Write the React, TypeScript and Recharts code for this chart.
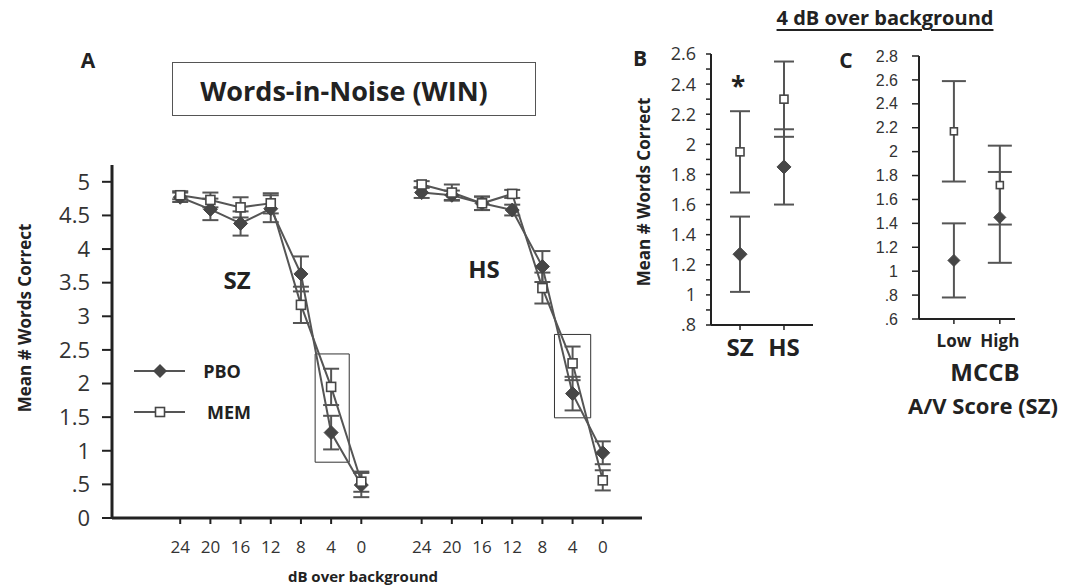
import React from "react";
import { ComposedChart, Line, XAxis, YAxis, ErrorBar, ReferenceArea } from "recharts";

// panel A: words correct by dB over background
const DB_LABELS = ["24", "20", "16", "12", "8", "4", "0"];
const SZ_POS = [0, 1, 2, 3, 4, 5, 6];
const HS_POS = [8, 9, 10, 11, 12, 13, 14];

const SZ_PBO = [4.77, 4.59, 4.38, 4.6, 3.63, 1.27, 0.49];
const SZ_PBO_ERR = [0.07, 0.16, 0.18, 0.2, 0.26, 0.25, 0.18];
const SZ_MEM = [4.8, 4.73, 4.62, 4.68, 3.17, 1.95, 0.54];
const SZ_MEM_ERR = [0.06, 0.11, 0.15, 0.15, 0.27, 0.27, 0.15];

const HS_PBO = [4.84, 4.8, 4.68, 4.58, 3.74, 1.85, 0.97];
const HS_PBO_ERR = [0.08, 0.07, 0.1, 0.08, 0.23, 0.25, 0.17];
const HS_MEM = [4.96, 4.84, 4.68, 4.82, 3.42, 2.3, 0.56];
const HS_MEM_ERR = [0.05, 0.12, 0.1, 0.06, 0.23, 0.25, 0.15];

const A_Y_TICKS = [0, 0.5, 1, 1.5, 2, 2.5, 3, 3.5, 4, 4.5, 5];

// boxes round the 4 dB points
const HIGHLIGHT_BOXES = [
  { x1: 4.47, x2: 5.6, y1: 0.83, y2: 2.44 },
  { x1: 12.4, x2: 13.6, y1: 1.49, y2: 2.73 },
];

// panel B: 4 dB, by group
const B_POS = [1, 2];
const B_GROUPS = ["SZ", "HS"];
const B_PBO = [1.27, 1.85];
const B_PBO_ERR = [0.25, 0.25];
const B_MEM = [1.95, 2.3];
const B_MEM_ERR = [0.27, 0.25];
const B_Y_TICKS = [0.8, 0.9, 1, 1.1, 1.2, 1.3, 1.4, 1.5, 1.6, 1.7, 1.8, 1.9, 2, 2.1, 2.2, 2.3, 2.4, 2.5, 2.6];

// panel C: SZ by MCCB A/V score
const C_POS = [1, 2];
const C_GROUPS = ["Low", "High"];
const C_PBO = [1.09, 1.45];
const C_PBO_ERR = [0.31, 0.38];
const C_MEM = [2.17, 1.72];
const C_MEM_ERR = [0.42, 0.33];
const C_Y_TICKS = [0.6, 0.8, 1, 1.2, 1.4, 1.6, 1.8, 2, 2.2, 2.4, 2.6, 2.8];

const toPoints = (pos: number[], vals: number[], errs: number[]) =>
  pos.map((x, i) => ({ x, y: vals[i], err: errs[i] }));

const fmtNum = (v: number) => String(Math.round(v * 10) / 10).replace(/^0\./, ".");

const FONT = "'Open Sans', sans-serif";
const LINE = "#555";
const MARK = "#464646";

const diamondDot = (r: number) => (p: any) => {
  if (p.cx == null || p.cy == null) return <g key={`dn-${p.index}`} />;
  const { cx, cy } = p;
  return (
    <path
      key={`d-${p.index}`}
      d={`M${cx},${cy - r}L${cx + r},${cy}L${cx},${cy + r}L${cx - r},${cy}Z`}
      fill={MARK}
      stroke={MARK}
      strokeWidth={1}
    />
  );
};

const squareDot = (s: number) => (p: any) => {
  if (p.cx == null || p.cy == null) return <g key={`sn-${p.index}`} />;
  return (
    <rect
      key={`s-${p.index}`}
      x={p.cx - s / 2}
      y={p.cy - s / 2}
      width={s}
      height={s}
      fill="#fff"
      stroke={MARK}
      strokeWidth={1.6}
    />
  );
};

function Txt({ x, y, size, bold = true, children, rotate, underline, family }: any) {
  return (
    <div
      style={{
        position: "absolute",
        left: x,
        top: y,
        transform: `translate(-50%, -50%)${rotate ? ` rotate(${rotate}deg)` : ""}`,
        fontSize: size,
        fontWeight: bold ? 700 : 400,
        fontFamily: family || FONT,
        color: "#222",
        whiteSpace: "nowrap",
        lineHeight: 1,
        textDecoration: underline ? "underline" : "none",
        textUnderlineOffset: 4,
      }}
    >
      {children}
    </div>
  );
}

function PanelA() {
  const series = [
    { data: toPoints(SZ_POS, SZ_PBO, SZ_PBO_ERR), dot: diamondDot(7) },
    { data: toPoints(SZ_POS, SZ_MEM, SZ_MEM_ERR), dot: squareDot(9) },
    { data: toPoints(HS_POS, HS_PBO, HS_PBO_ERR), dot: diamondDot(7) },
    { data: toPoints(HS_POS, HS_MEM, HS_MEM_ERR), dot: squareDot(9) },
  ];
  return (
    <div style={{ position: "absolute", left: 0, top: 0 }}>
      <ComposedChart width={660} height={588} margin={{ top: 165, right: 18, left: 52, bottom: 10 }}>
        <XAxis
          type="number"
          dataKey="x"
          domain={[-2.26, 15.3]}
          allowDataOverflow
          ticks={[...SZ_POS, ...HS_POS]}
          tickFormatter={(v: number) => DB_LABELS[v % 8]}
          height={60}
          tickSize={6}
          tickMargin={17}
          axisLine={{ stroke: "#222", strokeWidth: 3 }}
          tickLine={{ stroke: "#222", strokeWidth: 2 }}
          tick={{ fill: "#333", fontSize: 17, fontFamily: FONT }}
          interval={0}
        />
        <YAxis
          type="number"
          domain={[0, 5.25]}
          allowDataOverflow
          ticks={A_Y_TICKS}
          tickFormatter={fmtNum}
          width={60}
          tickSize={10}
          tickMargin={12}
          axisLine={{ stroke: "#222", strokeWidth: 3 }}
          tickLine={{ stroke: "#222", strokeWidth: 2 }}
          tick={{ fill: "#333", fontSize: 22, fontFamily: FONT }}
          interval={0}
        />
        {HIGHLIGHT_BOXES.map((b, i) => (
          <ReferenceArea key={i} x1={b.x1} x2={b.x2} y1={b.y1} y2={b.y2} fill="none" stroke="#333" strokeWidth={1} />
        ))}
        {series.map((s, i) => (
          <Line
            key={i}
            data={s.data}
            dataKey="y"
            stroke={LINE}
            strokeWidth={2}
            dot={s.dot}
            activeDot={false}
            isAnimationActive={false}
          >
            <ErrorBar dataKey="err" direction="y" width={8} stroke={LINE} strokeWidth={2} />
          </Line>
        ))}
      </ComposedChart>
    </div>
  );
}

function PanelB() {
  return (
    <div style={{ position: "absolute", left: 620, top: 0 }}>
      <ComposedChart width={220} height={370} margin={{ top: 54, right: 27, left: 41, bottom: 15 }}>
        <XAxis
          type="number"
          dataKey="x"
          domain={[0.34, 2.66]}
          allowDataOverflow
          ticks={B_POS}
          tickFormatter={(v: number) => B_GROUPS[v - 1]}
          height={30}
          tickSize={5}
          tickMargin={9}
          axisLine={{ stroke: "#222", strokeWidth: 2 }}
          tickLine={{ stroke: "#222", strokeWidth: 1.5 }}
          tick={{ fill: "#222", fontSize: 24, fontWeight: 700, fontFamily: FONT }}
          interval={0}
        />
        <YAxis
          type="number"
          domain={[0.8, 2.6]}
          allowDataOverflow
          ticks={B_Y_TICKS}
          tickFormatter={(v: number) => (Math.round(v * 10) % 2 === 0 ? fmtNum(v) : "")}
          width={50}
          tickSize={5}
          tickMargin={10}
          axisLine={{ stroke: "#222", strokeWidth: 2 }}
          tickLine={{ stroke: "#222", strokeWidth: 1.5 }}
          tick={{ fill: "#333", fontSize: 18, fontFamily: FONT }}
          interval={0}
        />
        <Line
          data={toPoints(B_POS, B_PBO, B_PBO_ERR)}
          dataKey="y"
          stroke="none"
          dot={diamondDot(7)}
          activeDot={false}
          isAnimationActive={false}
        >
          <ErrorBar dataKey="err" direction="y" width={10} stroke={LINE} strokeWidth={2} />
        </Line>
        <Line
          data={toPoints(B_POS, B_MEM, B_MEM_ERR)}
          dataKey="y"
          stroke="none"
          dot={squareDot(8)}
          activeDot={false}
          isAnimationActive={false}
        >
          <ErrorBar dataKey="err" direction="y" width={10} stroke={LINE} strokeWidth={2} />
        </Line>
      </ComposedChart>
    </div>
  );
}

function PanelC() {
  return (
    <div style={{ position: "absolute", left: 830, top: 0 }}>
      <ComposedChart width={220} height={360} margin={{ top: 56, right: 35, left: 39, bottom: 11 }}>
        <XAxis
          type="number"
          dataKey="x"
          domain={[0.24, 2.33]}
          allowDataOverflow
          ticks={C_POS}
          tickFormatter={(v: number) => C_GROUPS[v - 1]}
          height={30}
          tickSize={5}
          tickMargin={11}
          axisLine={{ stroke: "#222", strokeWidth: 2 }}
          tickLine={{ stroke: "#222", strokeWidth: 1.5 }}
          tick={{ fill: "#222", fontSize: 17, fontWeight: 700, fontFamily: FONT }}
          interval={0}
        />
        <YAxis
          type="number"
          domain={[0.6, 2.8]}
          allowDataOverflow
          ticks={C_Y_TICKS}
          tickFormatter={fmtNum}
          width={50}
          tickSize={7}
          tickMargin={14}
          axisLine={{ stroke: "#222", strokeWidth: 2 }}
          tickLine={{ stroke: "#222", strokeWidth: 1.5 }}
          tick={{ fill: "#333", fontSize: 16, fontFamily: "'Liberation Sans', Arial, sans-serif" }}
          interval={0}
        />
        <Line
          data={toPoints(C_POS, C_PBO, C_PBO_ERR)}
          dataKey="y"
          stroke="none"
          dot={diamondDot(6)}
          activeDot={false}
          isAnimationActive={false}
        >
          <ErrorBar dataKey="err" direction="y" width={12} stroke={LINE} strokeWidth={2} />
        </Line>
        <Line
          data={toPoints(C_POS, C_MEM, C_MEM_ERR)}
          dataKey="y"
          stroke="none"
          dot={squareDot(7)}
          activeDot={false}
          isAnimationActive={false}
        >
          <ErrorBar dataKey="err" direction="y" width={12} stroke={LINE} strokeWidth={2} />
        </Line>
      </ComposedChart>
    </div>
  );
}

function LegendA() {
  return (
    <div style={{ position: "absolute", left: 0, top: 0 }}>
      <svg width={200} height={440} style={{ position: "absolute", left: 0, top: 0 }}>
        <line x1={134} x2={185} y1={371} y2={371} stroke={LINE} strokeWidth={2} />
        <path d="M160,364L167,371L160,378L153,371Z" fill={MARK} />
        <line x1={134} x2={185} y1={412} y2={412} stroke={LINE} strokeWidth={2} />
        <rect x={155.5} y={407.5} width={9} height={9} fill="#fff" stroke={MARK} strokeWidth={1.6} />
      </svg>
      <Txt x={222} y={371} size={18}>PBO</Txt>
      <Txt x={229} y={412} size={18}>MEM</Txt>
    </div>
  );
}

export default function App() {
  return (
    <div
      style={{
        position: "absolute",
        left: 0,
        top: 0,
        width: 1069,
        height: 588,
        background: "#fff",
        fontFamily: FONT,
        overflow: "hidden",
      }}
    >
      <PanelA />
      <PanelB />
      <PanelC />
      <LegendA />

      <div
        style={{
          position: "absolute",
          left: 172,
          top: 62,
          width: 364,
          height: 54,
          border: "1px solid #555",
          boxSizing: "border-box",
        }}
      />
      <Txt x={344} y={90} size={27}>Words-in-Noise (WIN)</Txt>
      <Txt x={88} y={60} size={21}>A</Txt>
      <Txt x={640} y={58} size={21}>B</Txt>
      <Txt x={846} y={60} size={21}>C</Txt>
      <Txt x={885} y={18} size={20} underline>4 dB over background</Txt>

      <Txt x={237} y={280} size={24}>SZ</Txt>
      <Txt x={484} y={269} size={24}>HS</Txt>
      <Txt x={24} y={318} size={17} rotate={-90}>Mean # Words Correct</Txt>
      <Txt x={363} y={576} size={15}>dB over background</Txt>

      <Txt x={643} y={192} size={17} rotate={-90}>Mean # Words Correct</Txt>
      <Txt x={738} y={86} size={26}>*</Txt>

      <Txt x={985} y={372} size={24}>MCCB</Txt>
      <Txt x={983} y={405} size={22}>A/V Score (SZ)</Txt>
    </div>
  );
}
